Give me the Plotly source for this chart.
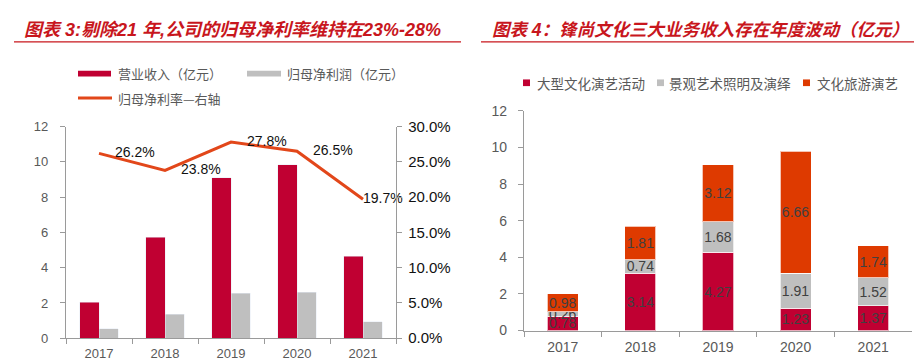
import plotly.graph_objects as go

# ---------------- data ----------------
years = ["2017", "2018", "2019", "2020", "2021"]
revenue = [2.03, 5.72, 9.10, 9.83, 4.66]          # 营业收入（亿元）
net_profit = [0.54, 1.36, 2.54, 2.60, 0.92]       # 归母净利润（亿元）
net_margin = [0.262, 0.238, 0.278, 0.265, 0.197]  # 归母净利率

large_events = [0.78, 3.14, 4.27, 1.23, 1.37]     # 大型文化演艺活动
landscape = [0.26, 0.74, 1.68, 1.91, 1.52]        # 景观艺术照明及演绎
tourism = [0.98, 1.81, 3.12, 6.66, 1.74]          # 文化旅游演艺

left_yticks = [0, 2, 4, 6, 8, 10, 12]
right_yticks = [0, 0.05, 0.10, 0.15, 0.20, 0.25, 0.30]

title_left = "图表 3:剔除21 年,公司的归母净利率维持在23%-28%"
title_right = "图表 4：锋尚文化三大业务收入存在年度波动（亿元）"

# ---------------- style ----------------
W, H = 922, 363
CRIMSON = "#C00032"
GRAY = "#BFBFBF"
ORANGE_LINE = "#E2471A"
ORANGE = "#DE3A00"
AXIS = "#9A9A9A"
TICK_TXT = "#595959"
TITLE_RED = "#C8161D"
NUMFONT = "Liberation Sans, Arial, Noto Sans CJK SC"
CJK = "Noto Sans CJK SC, Liberation Sans"


def px(x):
    return x / W


def py(y):
    return (H - y) / H


fig = go.Figure()

# ---- left chart ----
fig.add_trace(go.Bar(x=years, y=revenue, name="营业收入（亿元）", marker_color=CRIMSON,
                     width=0.29, offset=-0.29, xaxis="x", yaxis="y"))
fig.add_trace(go.Bar(x=years, y=net_profit, name="归母净利润（亿元）", marker_color=GRAY,
                     width=0.29, offset=0.0, xaxis="x", yaxis="y4"))
fig.add_trace(go.Scatter(
    x=years, y=net_margin, name="归母净利率—右轴", mode="lines+markers+text",
    line=dict(color=ORANGE_LINE, width=3),
    marker=dict(size=[24, 24, 24, 24, 0], opacity=0, line=dict(width=0)),
    text=[f"{v*100:.1f}%" for v in net_margin],
    textposition="middle right",
    textfont=dict(family=NUMFONT, size=14, color="#111111"),
    xaxis="x", yaxis="y2", cliponaxis=False))

# ---- right chart (stacked) ----
for vals, col, nm in [(large_events, CRIMSON, "大型文化演艺活动"),
                      (landscape, GRAY, "景观艺术照明及演绎"),
                      (tourism, ORANGE, "文化旅游演艺")]:
    fig.add_trace(go.Bar(
        x=years, y=vals, name=nm, marker=dict(color=col, line=dict(color="rgba(255,255,255,0.7)", width=1)),
        width=0.40, texttemplate="%{y:.2f}", textposition="inside", insidetextanchor="middle",
        textangle=0, constraintext="none",
        insidetextfont=dict(family=NUMFONT, size=14, color="#404040"),
        xaxis="x2", yaxis="y3"))

axis_common = dict(showline=True, linecolor=AXIS, linewidth=1.3, showgrid=False, zeroline=False,
                   ticks="outside", tickcolor=AXIS, tickwidth=1.3, ticklen=5)

fig.update_layout(
    width=W, height=H, margin=dict(l=0, r=0, t=0, b=0),
    paper_bgcolor="white", plot_bgcolor="white",
    barmode="stack", showlegend=False,
    uniformtext=dict(minsize=14, mode="show"),
    xaxis=dict(domain=[px(58), px(388)], anchor="y", type="category", tickson="boundaries",
               tickfont=dict(family=NUMFONT, size=13, color=TICK_TXT), ticklabelstandoff=3,
               **axis_common),
    yaxis=dict(domain=[py(337), py(115)], anchor="x", range=[0, 12], tickvals=left_yticks,
               tickfont=dict(family=NUMFONT, size=13, color=TICK_TXT), ticklabelstandoff=9,
               **axis_common),
    yaxis4=dict(overlaying="y", range=[0, 12], visible=False, anchor="x"),
    yaxis2=dict(overlaying="y", side="right", anchor="x", range=[0, 0.30], tickvals=right_yticks,
                tickformat=".1%", tickfont=dict(family=NUMFONT, size=15, color="#111111"),
                ticklabelstandoff=3, **axis_common),
    xaxis2=dict(domain=[px(516), px(904)], anchor="y3", type="category", tickson="boundaries",
                tickfont=dict(family=NUMFONT, size=14, color=TICK_TXT), ticklabelstandoff=3,
                **axis_common),
    yaxis3=dict(domain=[py(329), py(98.6)], anchor="x2", range=[0, 12], tickvals=left_yticks,
                tickfont=dict(family=NUMFONT, size=14, color=TICK_TXT), ticklabelstandoff=8,
                **axis_common),
)

# ---- titles ----
fig.add_annotation(text=f"<b><i>{title_left}</i></b>", xref="paper", yref="paper",
                   x=px(14), y=py(14), xanchor="left", yanchor="middle", showarrow=False,
                   font=dict(family=NUMFONT, size=18, color=TITLE_RED))
fig.add_annotation(text=f"<b><i>{title_right}</i></b>", xref="paper", yref="paper",
                   x=px(482), y=py(14), xanchor="left", yanchor="middle", showarrow=False,
                   font=dict(family=NUMFONT, size=17.5, color=TITLE_RED))
fig.add_shape(type="line", xref="paper", yref="paper", x0=px(6), x1=px(453), y0=py(26), y1=py(26),
              line=dict(color=TITLE_RED, width=1.3))
fig.add_shape(type="line", xref="paper", yref="paper", x0=px(473), x1=px(920), y0=py(26), y1=py(26),
              line=dict(color=TITLE_RED, width=1.3))

# ---- left legend ----
fig.add_shape(type="rect", xref="paper", yref="paper", x0=px(70), x1=px(103), y0=py(62.5), y1=py(56.5),
              fillcolor=CRIMSON, line=dict(width=0))
fig.add_shape(type="rect", xref="paper", yref="paper", x0=px(239), x1=px(273), y0=py(62.5), y1=py(56.5),
              fillcolor=GRAY, line=dict(width=0))
fig.add_shape(type="line", xref="paper", yref="paper", x0=px(70), x1=px(104), y0=py(85), y1=py(85),
              line=dict(color=ORANGE_LINE, width=3))
for txt, x, y in [("营业收入（亿元）", 108, 59), ("归母净利润（亿元）", 277, 59), ("归母净利率—右轴", 108, 85)]:
    fig.add_annotation(text=txt, xref="paper", yref="paper", x=px(x), y=py(y), xanchor="left",
                       yanchor="middle", showarrow=False, font=dict(family=CJK, size=13, color=TICK_TXT))

# ---- right legend ----
for col, sx, txt, tx in [(CRIMSON, 515, "大型文化演艺活动", 527),
                         (GRAY, 649, "景观艺术照明及演绎", 659),
                         (ORANGE, 795, "文化旅游演艺", 807)]:
    fig.add_shape(type="rect", xref="paper", yref="paper", x0=px(sx), x1=px(sx + 7), y0=py(72.5), y1=py(65.5),
                  fillcolor=col, line=dict(width=0))
    fig.add_annotation(text=txt, xref="paper", yref="paper", x=px(tx), y=py(69), xanchor="left",
                       yanchor="middle", showarrow=False, font=dict(family=CJK, size=13.5, color=TICK_TXT))

fig.write_html("out.html")
